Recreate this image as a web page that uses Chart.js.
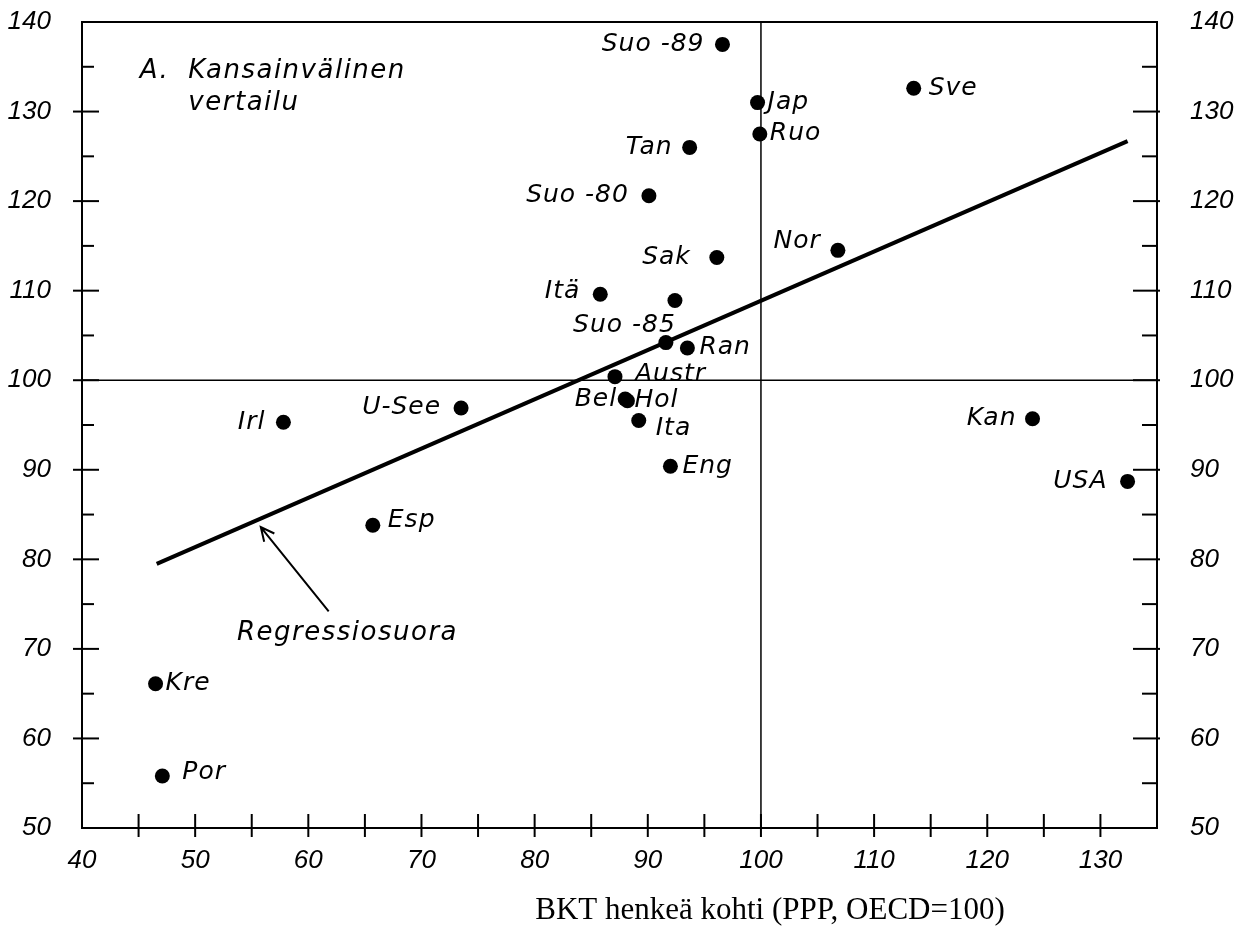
<!DOCTYPE html>
<html>
<head>
<meta charset="utf-8">
<script src="https://cdn.jsdelivr.net/npm/chart.js@4.4.0/dist/chart.umd.min.js"></script>
<style>
  html, body { margin: 0; padding: 0; background: #fff; }
  #wrap { width: 1239px; height: 938px; position: relative; }
</style>
</head>
<body>
<div id="wrap"><canvas id="scatterCanvas"></canvas></div>
<script>
// values
const countries = ['Suo -89', 'Jap', 'Ruo', 'Sve', 'Tan', 'Suo -80', 'Sak', 'Nor', 'Itä', '', 'Suo -85', 'Ran',
                   'Austr', 'Bel', 'Hol', 'Ita', 'Eng', 'Irl', 'U-See', 'Esp', 'Kre', 'Por', 'Kan', 'USA'];
const bktValues = [96.6, 99.7, 99.9, 113.5, 93.7, 90.1, 96.1, 106.8, 85.8, 92.4, 91.6, 93.5,
                   87.1, 88.0, 88.2, 89.2, 92.0, 57.8, 73.5, 65.7, 46.5, 47.1, 124.0, 132.4];
const indexValues = [137.5, 131.0, 127.5, 132.6, 126.0, 120.6, 113.7, 114.5, 109.6, 108.9, 104.2, 103.6,
                     100.4, 97.9, 97.7, 95.5, 90.4, 95.3, 96.9, 83.8, 66.1, 55.8, 95.7, 88.7];
const regressionX = [46.6, 132.4];
const regressionY = [79.5, 126.7];
const xTickValues = [40, 50, 60, 70, 80, 90, 100, 110, 120, 130];
const yTickValues = [50, 60, 70, 80, 90, 100, 110, 120, 130, 140];

// label placement next to each dot: [dx, dy, align]
const labelPlacement = [
  [-18, 0, 'right'], [10, 0, 'left'], [10, 0, 'left'], [15, 0, 'left'], [-17, 0, 'right'],
  [-20, 0, 'right'], [-26, 0, 'right'], [-17, -9, 'right'], [-20, -3, 'right'], null,
  [10, -17, 'right'], [12, 0, 'left'], [20, -2, 'left'], [-8, 0, 'right'], [7, 0, 'left'],
  [17, 8, 'left'], [12, 0, 'left'], [-18, 0, 'right'], [-20, 0, 'right'], [15, -5, 'left'],
  [10, 0, 'left'], [20, -4, 'left'], [-16, 0, 'right'], [-20, 0, 'right']
];

const labelFont = 'italic 25px "DejaVu Sans"';
const tickFont = { family: 'Liberation Sans', style: 'italic', size: 26 };

const decorPlugin = {
  id: 'decor',
  beforeDatasetsDraw(chart) {
    const { ctx, chartArea: a, scales: { x, y } } = chart;
    ctx.save();
    ctx.strokeStyle = '#000';
    const seg = (x1, y1, x2, y2) => { ctx.beginPath(); ctx.moveTo(x1, y1); ctx.lineTo(x2, y2); ctx.stroke(); };

    // frame
    ctx.lineWidth = 2;
    ctx.strokeRect(a.left, a.top, a.right - a.left, a.bottom - a.top);

    // OECD = 100 reference lines
    ctx.lineWidth = 1.5;
    seg(a.left, y.getPixelForValue(100), a.right, y.getPixelForValue(100));
    seg(x.getPixelForValue(100), a.top, x.getPixelForValue(100), a.bottom);

    // tick marks, every 5 units
    ctx.lineWidth = 2;
    for (let v = 55; v < 140; v += 5) {
      const py = y.getPixelForValue(v);
      const major = v % 10 === 0;
      seg(a.left - (major ? 9 : 0), py, a.left + (major ? 17 : 12), py);
      seg(a.right - (major ? 24 : 15), py, a.right + (major ? 3 : 0), py);
    }
    for (let v = 45; v <= 130; v += 5) {
      const px = x.getPixelForValue(v);
      seg(px, a.bottom - 14, px, a.bottom + 9);
    }
    ctx.restore();
  },
  afterDatasetsDraw(chart) {
    const { ctx, scales: { x, y } } = chart;
    ctx.save();
    ctx.fillStyle = '#000';
    ctx.strokeStyle = '#000';
    ctx.textBaseline = 'middle';
    ctx.font = labelFont;
    ctx.letterSpacing = '1px';

    // country labels
    countries.forEach((name, i) => {
      const p = labelPlacement[i];
      if (!name || !p) return;
      ctx.textAlign = p[2];
      ctx.fillText(name, x.getPixelForValue(bktValues[i]) + p[0], y.getPixelForValue(indexValues[i]) + p[1]);
    });

    // panel title and regression note
    ctx.textAlign = 'left';
    ctx.font = 'italic 26px "DejaVu Sans"';
    ctx.letterSpacing = '1.5px';
    ctx.fillText('A.', x.getPixelForValue(45.1), y.getPixelForValue(134.5));
    ctx.fillText('Kansainvälinen', x.getPixelForValue(49.4), y.getPixelForValue(134.5));
    ctx.fillText('vertailu', x.getPixelForValue(49.4), y.getPixelForValue(130.9));
    ctx.fillText('Regressiosuora', x.getPixelForValue(53.7), y.getPixelForValue(71.7));
    ctx.letterSpacing = '0px';

    // arrow to the regression line
    const tx = x.getPixelForValue(61.8), ty = y.getPixelForValue(74.2);
    const hx = x.getPixelForValue(55.8), hy = y.getPixelForValue(83.6);
    const ang = Math.atan2(hy - ty, hx - tx);
    ctx.lineWidth = 2;
    ctx.beginPath();
    ctx.moveTo(tx, ty); ctx.lineTo(hx, hy);
    ctx.moveTo(hx - 15 * Math.cos(ang - 0.45), hy - 15 * Math.sin(ang - 0.45));
    ctx.lineTo(hx, hy);
    ctx.lineTo(hx - 15 * Math.cos(ang + 0.45), hy - 15 * Math.sin(ang + 0.45));
    ctx.stroke();

    // x axis title
    ctx.font = '31px "Liberation Serif"';
    ctx.textAlign = 'center';
    ctx.fillText('BKT henkeä kohti (PPP, OECD=100)', 770, 911);
    ctx.restore();
  }
};

const noPad = s => { s.paddingTop = 0; s.paddingBottom = 0; };

const ctx = document.getElementById('scatterCanvas').getContext('2d');
new Chart(ctx, {
  type: 'scatter',
  data: {
    datasets: [{
      label: 'Maat',
      data: bktValues.map((v, i) => ({ x: v, y: indexValues[i] })),
      backgroundColor: '#000',
      borderWidth: 0,
      pointRadius: 7.5,
      yAxisID: 'y'
    }, {
      label: 'Regressiosuora',
      type: 'line',
      data: regressionX.map((v, i) => ({ x: v, y: regressionY[i] })),
      borderColor: '#000',
      borderWidth: 4,
      pointRadius: 0,
      fill: false,
      yAxisID: 'y'
    }]
  },
  options: {
    responsive: true,
    maintainAspectRatio: false,
    animation: false,
    devicePixelRatio: 1,
    layout: { padding: { top: 22, left: 0, right: 0, bottom: 0 } },
    plugins: { legend: { display: false }, tooltip: { enabled: false } },
    scales: {
      x: {
        type: 'linear', position: 'bottom', min: 40, max: 135,
        afterBuildTicks: s => { s.ticks = xTickValues.map(v => ({ value: v })); },
        afterFit: s => { s.height = 110; s.paddingLeft = 0; s.paddingRight = 0; },
        grid: { display: false },
        border: { display: false },
        ticks: { font: tickFont, color: '#000', padding: 9, maxRotation: 0 }
      },
      y: {
        type: 'linear', position: 'left', min: 50, max: 140,
        afterBuildTicks: s => { s.ticks = yTickValues.map(v => ({ value: v })); },
        afterFit: s => { s.width = 82; noPad(s); },
        grid: { display: false },
        border: { display: false },
        ticks: { font: tickFont, color: '#000', padding: 23 }
      },
      y2: {
        type: 'linear', position: 'right', min: 50, max: 140,
        afterBuildTicks: s => { s.ticks = yTickValues.map(v => ({ value: v })); },
        afterFit: s => { s.width = 82; noPad(s); },
        grid: { display: false },
        border: { display: false },
        ticks: { font: tickFont, color: '#000', padding: 25 }
      }
    }
  },
  plugins: [decorPlugin]
});
</script>
</body>
</html>
